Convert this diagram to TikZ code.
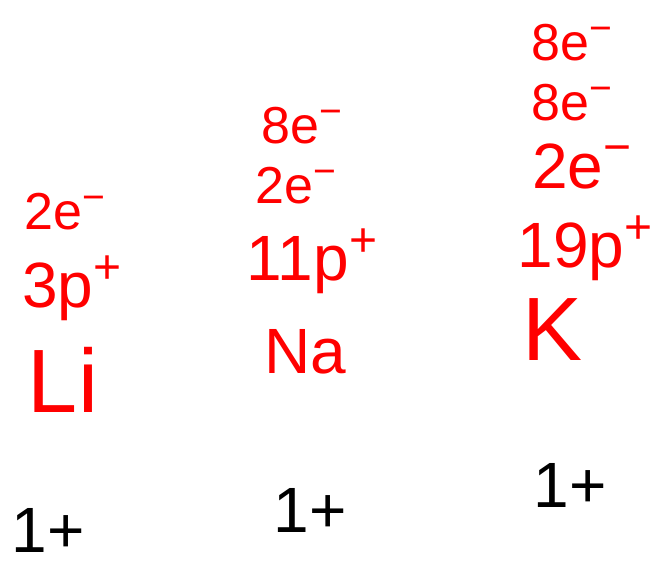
\documentclass[tikz,border=0pt]{standalone}
\usepackage{fontspec}
\usepackage{graphicx}
\setmainfont{Liberation Sans}
\newcommand{\mysupr}[1]{\raisebox{0.38em}{\scalebox{0.75}{#1}}}
\begin{document}
\begin{tikzpicture}[x=1pt,y=-1pt,
  redtxt/.style={text=red,inner sep=0pt,anchor=center},
  blktxt/.style={text=black,inner sep=0pt,anchor=center},
  big/.style={font=\fontsize{90}{90}\selectfont},
  mid/.style={font=\fontsize{64}{64}\selectfont},
  sml/.style={font=\fontsize{52}{52}\selectfont}]
\useasboundingbox (0,0) rectangle (655,564);
% Li column
\node[redtxt,sml] (li2e) at (65,212) {2e\mysupr{−}};
\node[redtxt,mid] (li3p) at (72,288) {3p\mysupr{+}};
\node[redtxt,big] (li) at (63,380) {Li};
\node[blktxt,mid] (lich) at (48,530) {1+};
% Na column
\node[redtxt,sml] (na8e) at (302,126) {8e\mysupr{−}};
\node[redtxt,sml] (na2e) at (296,186) {2e\mysupr{−}};
\node[redtxt,mid] (na11p) at (312,261) {11p\mysupr{+}};
\node[redtxt,mid] (na) at (305,352) {Na};
\node[blktxt,mid] (nach) at (310,510) {1+};
% K column
\node[redtxt,sml] (k8a) at (572,43) {8e\mysupr{−}};
\node[redtxt,sml] (k8b) at (572,103) {8e\mysupr{−}};
\node[redtxt,mid] (k2e) at (582,166) {2e\mysupr{−}};
\node[redtxt,mid] (k19p) at (585,248) {19p\mysupr{+}};
\node[redtxt,big] (k) at (553,330) {K};
\node[blktxt,mid] (kch) at (570,485) {1+};
\end{tikzpicture}
\end{document}
